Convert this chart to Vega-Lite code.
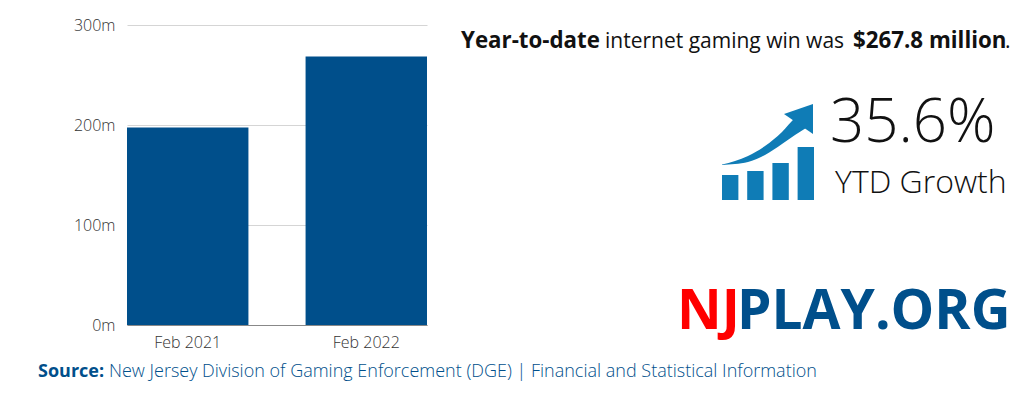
{"$schema":"https://vega.github.io/schema/vega-lite/v6.json","width":300,"height":300,"autosize":{"type":"none"},"padding":{"left":127,"top":25,"right":597,"bottom":75},"background":"white","config":{"view":{"stroke":null},"font":"Open Sans","text":{"font":"Open Sans"}},"datasets":{"bars":[{"month":"Feb 2021","win":197.5},{"month":"Feb 2022","win":268.5}],"iconBars":[{"step":"a","level":25},{"step":"b","level":29},{"step":"c","level":37},{"step":"d","level":53}],"arrowBody":[{"u":0,"top":35.5,"bottom":35},{"u":13,"top":39,"bottom":36},{"u":26,"top":44,"bottom":38},{"u":43,"top":54,"bottom":45},{"u":60,"top":68,"bottom":56},{"u":73,"top":82,"bottom":65},{"u":84,"top":90,"bottom":72}],"arrowHead":[{"u":62,"top":86,"bottom":86},{"u":91,"top":96,"bottom":66}]},"layer":[{"data":{"name":"bars"},"mark":{"type":"bar","color":"#004F8B"},"encoding":{"x":{"field":"month","type":"nominal","scale":{"paddingInner":0.32,"paddingOuter":0},"axis":{"title":null,"labelAngle":0,"labelFont":"Open Sans","labelFontSize":16,"labelColor":"#333333","labelFontWeight":300,"labelPadding":9,"ticks":false,"domainColor":"#888888","grid":false}},"y":{"field":"win","type":"quantitative","scale":{"domain":[0,300]},"axis":{"title":null,"values":[0,100,200,300],"labelExpr":"datum.value + 'm'","labelFont":"Open Sans","labelFontSize":16,"labelColor":"#333333","labelFontWeight":300,"labelPadding":12,"ticks":false,"domain":false,"grid":true,"gridColor":"#D5D5D5"}}}},{"data":{"name":"iconBars"},"mark":{"type":"bar","color":"#0F7CB6"},"encoding":{"x":{"field":"step","type":"nominal","scale":{"range":[595,687],"paddingInner":0.35,"paddingOuter":0},"axis":null},"y":{"field":"level","type":"quantitative","scale":{"domain":[0,95],"range":[175,80]},"axis":null}}},{"data":{"name":"arrowBody"},"mark":{"type":"area","color":"#0F7CB6","interpolate":"monotone"},"encoding":{"x":{"field":"u","type":"quantitative","scale":{"domain":[0,92],"range":[595,687]},"axis":null},"y":{"field":"top","type":"quantitative","scale":{"domain":[0,95],"range":[175,80]},"axis":null},"y2":{"field":"bottom"}}},{"data":{"name":"arrowHead"},"mark":{"type":"area","color":"#0F7CB6"},"encoding":{"x":{"field":"u","type":"quantitative","scale":{"domain":[0,92],"range":[595,687]},"axis":null},"y":{"field":"top","type":"quantitative","scale":{"domain":[0,95],"range":[175,80]},"axis":null},"y2":{"field":"bottom"}}},{"data":{"values":[{"t":"Year-to-date"}]},"mark":{"type":"text","align":"left","baseline":"alphabetic","x":334,"y":23,"fontSize":22.3,"fontWeight":700,"color":"#111111"},"encoding":{"text":{"field":"t"}}},{"data":{"values":[{"t":"internet gaming win was"}]},"mark":{"type":"text","align":"left","baseline":"alphabetic","x":478,"y":23,"fontSize":21,"color":"#111111"},"encoding":{"text":{"field":"t"}}},{"data":{"values":[{"t":"$267.8 million"}]},"mark":{"type":"text","align":"left","baseline":"alphabetic","x":726,"y":23,"fontSize":22.3,"fontWeight":700,"color":"#111111"},"encoding":{"text":{"field":"t"}}},{"data":{"values":[{"t":"."}]},"mark":{"type":"text","align":"left","baseline":"alphabetic","x":878,"y":23,"fontSize":21,"color":"#111111"},"encoding":{"text":{"field":"t"}}},{"data":{"values":[{"t":"35.6%"}]},"mark":{"type":"text","align":"left","baseline":"alphabetic","x":703,"y":117,"fontSize":60,"fontWeight":300,"color":"#111111"},"encoding":{"text":{"field":"t"}}},{"data":{"values":[{"t":"YTD Growth"}]},"mark":{"type":"text","align":"left","baseline":"alphabetic","x":708,"y":168,"fontSize":32,"fontWeight":300,"color":"#111111"},"encoding":{"text":{"field":"t"}}},{"data":{"values":[{"t":"NJ"}]},"mark":{"type":"text","align":"left","baseline":"alphabetic","x":550,"y":304,"fontSize":55,"fontWeight":700,"color":"#FF0000"},"encoding":{"text":{"field":"t"}}},{"data":{"values":[{"t":"PLAY.ORG"}]},"mark":{"type":"text","align":"left","baseline":"alphabetic","x":610,"y":304,"fontSize":55,"fontWeight":700,"color":"#004F8B"},"encoding":{"text":{"field":"t"}}},{"data":{"values":[{"t":"Source:"}]},"mark":{"type":"text","align":"left","baseline":"alphabetic","x":-89,"y":352,"fontSize":18,"fontWeight":700,"color":"#004F8B"},"encoding":{"text":{"field":"t"}}},{"data":{"values":[{"t":"New Jersey Division of Gaming Enforcement (DGE) | Financial and Statistical Information"}]},"mark":{"type":"text","align":"left","baseline":"alphabetic","x":-18,"y":352,"fontSize":18,"fontWeight":300,"color":"#004F8B"},"encoding":{"text":{"field":"t"}}}],"resolve":{"scale":{"x":"independent","y":"independent"},"axis":{"x":"independent","y":"independent"}}}
